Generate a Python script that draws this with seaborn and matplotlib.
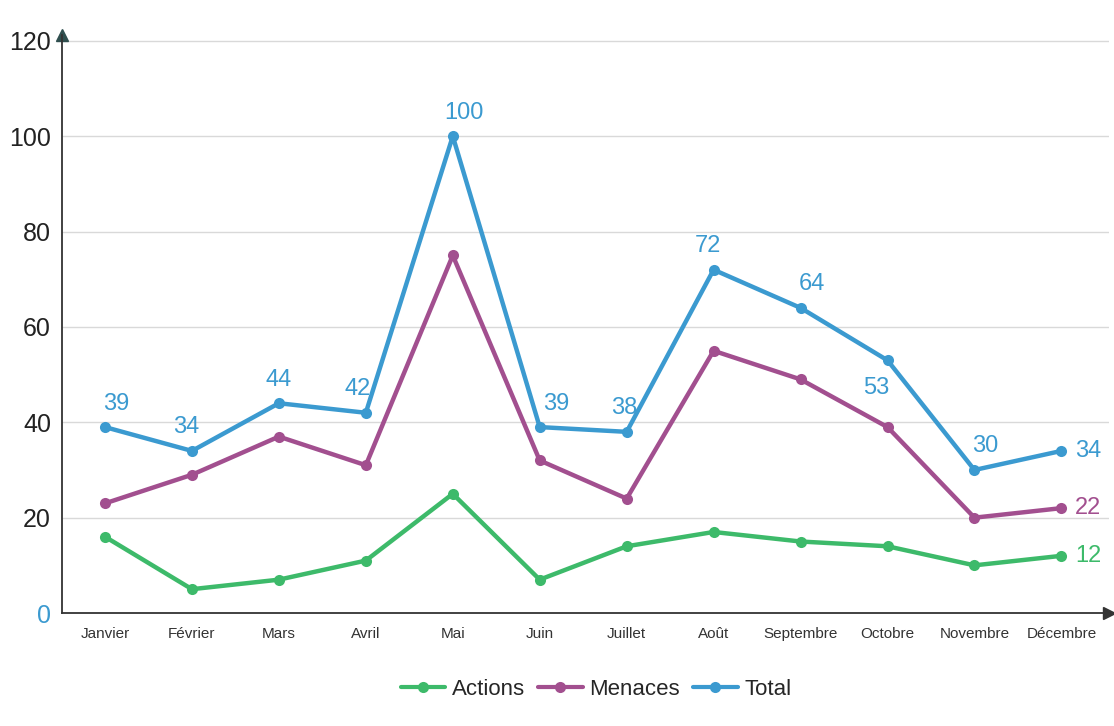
import numpy as np
import pandas as pd
import matplotlib.pyplot as plt
import seaborn as sns

# --- Data ---
mois = ['Janvier', 'Février', 'Mars', 'Avril', 'Mai', 'Juin', 'Juillet',
        'Août', 'Septembre', 'Octobre', 'Novembre', 'Décembre']
actions = [16, 5, 7, 11, 25, 7, 14, 17, 15, 14, 10, 12]
menaces = [23, 29, 37, 31, 75, 32, 24, 55, 49, 39, 20, 22]
total = [39, 34, 44, 42, 100, 39, 38, 72, 64, 53, 30, 34]
y_ticks = [0, 20, 40, 60, 80, 100, 120]

series = ['Actions', 'Menaces', 'Total']
colors = {'Actions': '#3dba6a', 'Menaces': '#a24f8f', 'Total': '#3b9ad0'}

df = pd.DataFrame({
    'idx': np.tile(np.arange(len(mois)), 3),
    'valeur': actions + menaces + total,
    'serie': np.repeat(series, len(mois)),
})

# --- Style ---
sns.set_theme(style='white')
plt.rcParams['font.family'] = ['Liberation Sans Narrow', 'Liberation Sans', 'DejaVu Sans']

fig = plt.figure(figsize=(11.14, 7.26), dpi=100)
ax = fig.add_axes([0.0557, 0.1556, 0.94, 0.796])

sns.lineplot(data=df, x='idx', y='valeur', hue='serie', hue_order=series,
             palette=colors, marker='o', markersize=8, markeredgewidth=0,
             linewidth=3.2, ax=ax, legend=False)

ax.set_xlim(-0.494, 11.55)
ax.set_ylim(0, 121.2)
ax.set_xticks(range(len(mois)))
ax.set_xticklabels(mois, fontsize=11, color='#333333')
ax.set_yticks(y_ticks)
ax.set_yticklabels([str(v) for v in y_ticks], fontsize=18, color='#222222')
ax.get_yticklabels()[0].set_color(colors['Total'])
ax.tick_params(axis='both', length=0)
ax.tick_params(axis='x', pad=10)
ax.tick_params(axis='y', pad=8)
ax.set_xlabel('')
ax.set_ylabel('')

for v in y_ticks[1:]:
    ax.axhline(v, color='#d9d9d9', linewidth=1, zorder=0)

for side in ['top', 'right']:
    ax.spines[side].set_visible(False)
ax.spines['left'].set_color('#333333')
ax.spines['bottom'].set_color('#333333')
ax.spines['left'].set_linewidth(1.3)
ax.spines['bottom'].set_linewidth(1.3)

# arrow heads on axes
ax.plot(0, 1, marker='^', color='#2f4f4f', markersize=8, transform=ax.transAxes, clip_on=False)
ax.plot(1, 0, marker='>', color='#333333', markersize=8, transform=ax.transAxes, clip_on=False)

# --- Data labels ---
offsets_total = [(8, 9), (-4, 9), (0, 9), (-6, 9), (8, 9), (12, 9),
                 (-2, 9), (-4, 9), (8, 9), (-8, -28), (8, 9), None]
for i, v in enumerate(total):
    if offsets_total[i] is None:
        continue
    dx, dy = offsets_total[i]
    ax.annotate(str(v), (i, v), xytext=(dx, dy), textcoords='offset points',
                ha='center', va='bottom', fontsize=17, color=colors['Total'])

for vals, name in [(total, 'Total'), (menaces, 'Menaces'), (actions, 'Actions')]:
    ax.annotate(str(vals[-1]), (11, vals[-1]), xytext=(10, 0), textcoords='offset points',
                ha='left', va='center', fontsize=17, color=colors[name])

# --- Legend ---
handles = [plt.Line2D([], [], color=colors[s], marker='o', markersize=8,
                      linewidth=3, markeredgewidth=0) for s in series]
fig.legend(handles, series, loc='center', bbox_to_anchor=(0.535, 0.05), ncol=3,
           frameon=False, fontsize=16, handlelength=2.0, handletextpad=0.3,
           columnspacing=0.6)

fig.savefig('out.png', dpi=100)
